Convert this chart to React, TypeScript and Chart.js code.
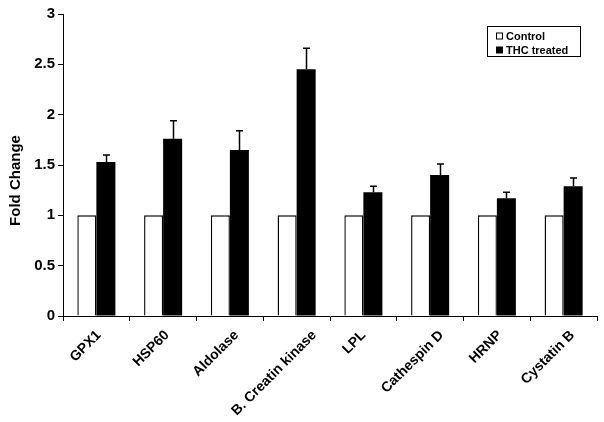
import React, { useEffect, useRef } from 'react';
import { Chart, registerables } from 'chart.js';

Chart.register(...registerables);

const categories = ['GPX1', 'HSP60', 'Aldolase', 'B. Creatin kinase', 'LPL', 'Cathespin D', 'HRNP', 'Cystatin B'];
const controlValues = [1, 1, 1, 1, 1, 1, 1, 1];
const treatedValues = [1.53, 1.76, 1.65, 2.45, 1.23, 1.4, 1.17, 1.29];
const treatedErrors = [0.07, 0.18, 0.19, 0.21, 0.06, 0.11, 0.06, 0.08];
const seriesNames = ['Control', 'THC treated'];
const yTitle = 'Fold Change';

const FONT = "'Liberation Sans', Arial, Helvetica, sans-serif";

const errorBarPlugin = {
  id: 'errorBars',
  afterDatasetsDraw(chart: any) {
    const meta = chart.getDatasetMeta(1);
    const yScale = chart.scales.y;
    const ctx = chart.ctx;
    ctx.save();
    ctx.strokeStyle = '#000';
    ctx.lineWidth = 1.5;
    meta.data.forEach((bar: any, i: number) => {
      const top = yScale.getPixelForValue(treatedValues[i] + treatedErrors[i]);
      const x = Math.round(bar.x) + 0.5;
      ctx.beginPath();
      ctx.moveTo(x, bar.y);
      ctx.lineTo(x, top);
      ctx.moveTo(x - 3.5, top);
      ctx.lineTo(x + 3.5, top);
      ctx.stroke();
    });
    ctx.restore();
  },
};

const labelsPlugin = {
  id: 'rotLabels',
  afterDraw(chart: any) {
    const ctx = chart.ctx;
    const xScale = chart.scales.x;
    ctx.save();
    ctx.fillStyle = '#000';
    ctx.font = `bold 14px ${FONT}`;
    categories.forEach((lab, i) => {
      const c = xScale.getPixelForValue(i);
      const w = ctx.measureText(lab).width;
      const ax = c - 5 + 0.2 * w;
      const ay = 333;
      ctx.save();
      ctx.translate(ax, ay);
      ctx.rotate(-Math.PI / 4);
      ctx.textAlign = 'right';
      ctx.textBaseline = 'middle';
      ctx.fillText(lab, 0, 0);
      ctx.restore();
    });
    // y title
    ctx.save();
    ctx.translate(15.5, 180.5);
    ctx.rotate(-Math.PI / 2);
    ctx.textAlign = 'center';
    ctx.textBaseline = 'middle';
    ctx.font = `bold 15px ${FONT}`;
    ctx.fillText(yTitle, 0, 0);
    ctx.restore();
    // legend
    const bx = 487.5, by = 26.5, bw = 93, bh = 30;
    ctx.fillStyle = '#fff';
    ctx.fillRect(bx, by, bw, bh);
    ctx.strokeStyle = '#000';
    ctx.lineWidth = 1;
    ctx.strokeRect(bx, by, bw, bh);
    ctx.font = `bold 11px ${FONT}`;
    ctx.textAlign = 'left';
    ctx.textBaseline = 'middle';
    const rows = [36.5, 50.5];
    seriesNames.forEach((name, i) => {
      const y = rows[i];
      if (i === 0) {
        ctx.fillStyle = '#fff';
        ctx.fillRect(496.5, y - 3.5, 6, 6);
        ctx.strokeRect(496.5, y - 3.5, 6, 6);
      } else {
        ctx.fillStyle = '#000';
        ctx.fillRect(496, y - 4, 7, 7);
      }
      ctx.fillStyle = '#000';
      ctx.fillText(name, 506, y);
    });
    ctx.restore();
  },
};

export default function App() {
  const ref = useRef<HTMLCanvasElement>(null);
  useEffect(() => {
    const chart = new Chart(ref.current as HTMLCanvasElement, {
      type: 'bar',
      data: {
        labels: categories,
        datasets: [
          {
            label: seriesNames[0],
            data: controlValues,
            backgroundColor: '#ffffff',
            borderColor: '#000000',
            borderWidth: 1.4,
            categoryPercentage: 0.57,
            barPercentage: 1,
          },
          {
            label: seriesNames[1],
            data: treatedValues,
            backgroundColor: '#000000',
            borderColor: '#000000',
            borderWidth: 0,
            categoryPercentage: 0.57,
            barPercentage: 1,
          },
        ],
      },
      options: {
        responsive: false,
        animation: false,
        devicePixelRatio: 1,
        layout: { padding: { left: 0, top: 14, right: 7, bottom: 0 } },
        plugins: {
          legend: { display: false },
          tooltip: { enabled: false },
        },
        scales: {
          x: {
            grid: { display: true, drawOnChartArea: false, drawTicks: true, tickLength: 5, color: '#000', offset: true },
            border: { color: '#000', width: 1 },
            ticks: { display: false },
            afterFit: (s: any) => { s.height = 106; },
          },
          y: {
            min: 0,
            max: 3,
            ticks: {
              stepSize: 0.5,
              color: '#000',
              padding: 3,
              font: { family: FONT, size: 15, weight: 'bold' },
              callback: (v: any) => String(Number(v)),
            },
            grid: { drawOnChartArea: false, drawTicks: true, tickLength: 5, color: '#000' },
            border: { color: '#000', width: 1 },
            afterFit: (s: any) => { s.width = 63; },
          },
        },
      },
      plugins: [errorBarPlugin, labelsPlugin],
    } as any);
    return () => chart.destroy();
  }, []);
  return (
    <div style={{ position: 'absolute', left: 0, top: 0, width: 604, height: 422, background: '#fff' }}>
      <canvas ref={ref} width={604} height={422} style={{ display: 'block' }} />
    </div>
  );
}
